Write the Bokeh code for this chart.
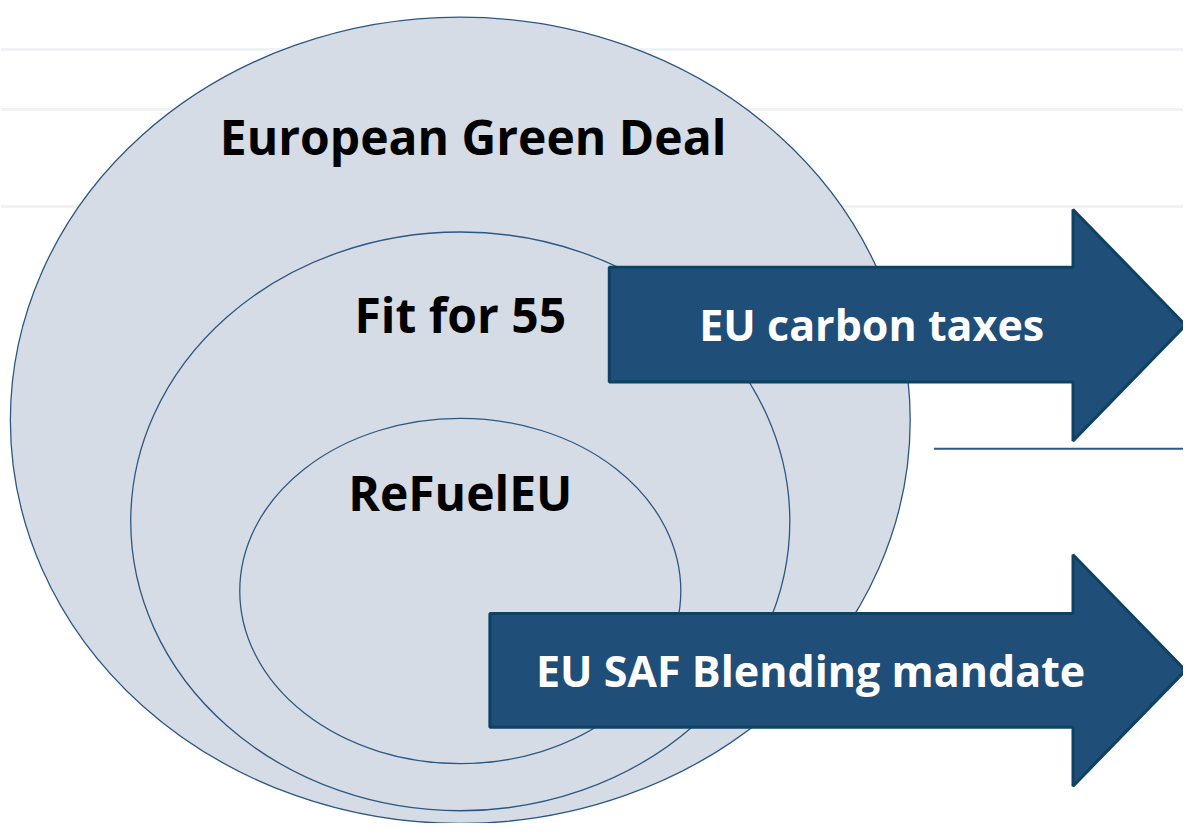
from bokeh.plotting import figure
from bokeh.models import Range1d
from bokeh.core.properties import value
from bokeh.embed import file_html
from bokeh.resources import INLINE

# ---- data ----
circle_labels = ["European Green Deal", "Fit for 55", "ReFuelEU"]
circle_cx = [466, 466, 466]
circle_cy = [428, 531, 602]
circle_w = [912, 668, 447]
circle_h = [822, 590, 352]
label_x = [479, 466, 466]
label_y = [139, 320, 502]

arrow_labels = ["EU carbon taxes", "EU SAF Blending mandate"]
arrow_left = [617, 496]
arrow_neck = [1087, 1087]
arrow_tip = [1201, 1201]
arrow_body_top = [272, 625]
arrow_body_bot = [389, 741]
arrow_head_top = [213, 565]
arrow_head_bot = [449, 801]
arrow_text_x = [883, 821]

bg_lines_y = [50, 111, 210]
divider_y = 457
divider_x = [946, 1199]

# full reference canvas (1199 x 839) mapped onto the figure that fits the window
W, H = 1183, 823
p = figure(width=W, height=H, output_backend="svg", toolbar_location=None,
           x_range=Range1d(0, 1199), y_range=Range1d(839, 0),
           min_border=0, outline_line_color=None)
p.axis.visible = False
p.grid.visible = False
p.background_fill_color = "white"

# faint background rules
for y in bg_lines_y:
    p.line([0, 1210], [y, y], line_color="#f0f3f6", line_width=3)
p.line(divider_x, [divider_y, divider_y], line_color="#2a5a87", line_width=2)

# nested ellipses
p.ellipse(x=circle_cx, y=circle_cy, width=circle_w, height=circle_h,
          fill_color="#d6dce5", line_color="#2b5783", line_width=1.3)

# arrows
xs, ys = [], []
for i in range(len(arrow_labels)):
    xs.append([arrow_left[i], arrow_neck[i], arrow_neck[i], arrow_tip[i],
               arrow_neck[i], arrow_neck[i], arrow_left[i]])
    mid = (arrow_head_top[i] + arrow_head_bot[i]) / 2
    ys.append([arrow_body_top[i], arrow_body_top[i], arrow_head_top[i], mid,
               arrow_head_bot[i], arrow_body_bot[i], arrow_body_bot[i]])
p.patches(xs, ys, fill_color="#1f4e79", line_color="#0d4263", line_width=3)

# labels
p.text(x=label_x, y=label_y, text=circle_labels, text_align="center",
       text_baseline="middle", text_font=value("Open Sans"),
       text_font_style="bold", text_font_size="48px", text_color="black")
arrow_text_y = [(a + b) / 2 for a, b in zip(arrow_body_top, arrow_body_bot)]
p.text(x=arrow_text_x, y=arrow_text_y, text=arrow_labels, text_align="center",
       text_baseline="middle", text_font=value("Open Sans"),
       text_font_style="bold", text_font_size="43px", text_color="white")

open("out.html", "w").write(file_html(p, INLINE))
